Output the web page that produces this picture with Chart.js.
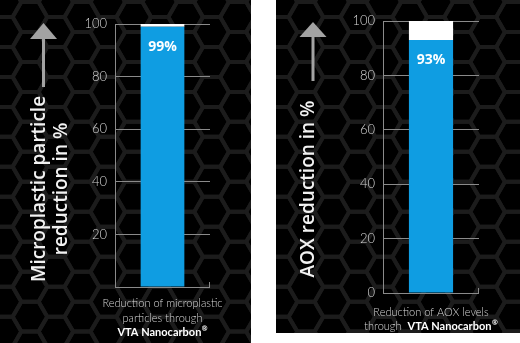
<!DOCTYPE html>
<html>
<head>
<meta charset="utf-8">
<script src="https://cdn.jsdelivr.net/npm/chart.js@4.4.1/dist/chart.umd.min.js"></script>
<style>
  body { margin: 0; background: #fff; width: 520px; height: 343px; position: relative; overflow: hidden; }
  #leftChart { position: absolute; left: 0; top: 0; }
  #rightChart { position: absolute; left: 276px; top: 0; }
</style>
</head>
<body>
<canvas id="leftChart" width="251" height="343"></canvas>
<canvas id="rightChart" width="244" height="333"></canvas>
<script>
// Data
const categories = ['Microplastic particles', 'AOX levels'];
const reductionValues = [99, 93];
const remainderValues = [1, 7];
const yTickValues = [0, 20, 40, 60, 80, 100];
const leftTickLabels = ['', '20', '40', '60', '80', '100'];
const rightTickLabels = ['0', '20', '40', '60', '80', '100'];
const axisTitles = [['Microplastic particle', 'reduction in %'], ['AOX reduction in %']];
const captionLines = [['Reduction of microplastic', 'particles through'], ['Reduction of AOX levels', 'through  ']];
const brandName = 'VTA Nanocarbon';
const brandMark = '®';

const BLUE = '#0f9de2';
const GRID = '#8a8a8a';
const LIGHT = '#d6d6d6';

function hexBackground(ctx, w, h) {
    ctx.save();
    ctx.fillStyle = '#000';
    ctx.fillRect(0, 0, w, h);
    const R = 17.3, hh = Math.sqrt(3) * R;
    ctx.strokeStyle = '#1c1c1c';
    ctx.lineWidth = 4;
    for (let i = -1; i * 1.5 * R < w + R; i++) {
        const cx = i * 1.5 * R + 4;
        for (let j = -1; j * hh < h + hh; j++) {
            const cy = j * hh + (i % 2 ? hh / 2 : 0) + 2;
            ctx.beginPath();
            for (let k = 0; k < 6; k++) {
                const a = Math.PI / 3 * k;
                const px = cx + R * Math.cos(a), py = cy + R * Math.sin(a);
                k ? ctx.lineTo(px, py) : ctx.moveTo(px, py);
            }
            ctx.closePath();
            ctx.stroke();
        }
    }
    ctx.restore();
}

// bold brand name with small raised ® ; x is the left edge
function drawBrand(ctx, x, y) {
    ctx.save();
    ctx.textAlign = 'left';
    ctx.fillStyle = '#ffffff';
    ctx.font = 'bold 11px Lato';
    ctx.fillText(brandName, x, y);
    const w = ctx.measureText(brandName).width;
    ctx.font = 'bold 7px Lato';
    ctx.fillText(brandMark, x + w + 0.5, y - 3);
    ctx.restore();
}

function brandWidth(ctx) {
    ctx.save();
    ctx.font = 'bold 11px Lato';
    const w = ctx.measureText(brandName).width;
    ctx.font = 'bold 7px Lato';
    const w2 = ctx.measureText(brandMark).width;
    ctx.restore();
    return w + w2 + 0.5;
}

function makeChart(id, idx, o) {
    const canvas = document.getElementById(id);
    const W = canvas.width, H = canvas.height;
    const tickLabels = idx === 0 ? leftTickLabels : rightTickLabels;

    return new Chart(canvas.getContext('2d'), {
        type: 'bar',
        data: {
            labels: [categories[idx]],
            datasets: [
                { data: [reductionValues[idx]], backgroundColor: BLUE, borderWidth: 0, barPercentage: 0.46, categoryPercentage: 1 },
                { data: [remainderValues[idx]], backgroundColor: '#ffffff', borderWidth: 0, barPercentage: 0.46, categoryPercentage: 1 }
            ]
        },
        options: {
            responsive: false,
            animation: false,
            devicePixelRatio: 1,
            layout: { padding: { left: 0, right: W - o.right, top: o.top, bottom: H - o.bottom } },
            scales: {
                x: { stacked: true, display: false },
                y: {
                    stacked: true, min: 0, max: 100,
                    afterFit: s => { s.width = o.left; },
                    afterBuildTicks: s => { s.ticks = yTickValues.map(v => ({ value: v })); },
                    grid: { color: GRID, lineWidth: 1, drawTicks: false },
                    border: { display: true, color: GRID, width: 1 },
                    ticks: {
                        padding: 8, color: LIGHT,
                        font: { family: 'Lato', size: 13, weight: '300' },
                        callback: (v, i) => tickLabels[i]
                    }
                }
            },
            plugins: { legend: { display: false }, tooltip: { enabled: false } }
        },
        plugins: [{
            id: 'panelDecor',
            beforeDraw(chart) {
                hexBackground(chart.ctx, W, H);
            },
            afterDraw(chart) {
                const { ctx, chartArea, scales } = chart;
                ctx.save();

                // small tick at right end of the baseline
                const y0 = scales.y.getPixelForValue(0);
                ctx.strokeStyle = GRID;
                ctx.lineWidth = 1;
                ctx.beginPath();
                ctx.moveTo(chartArea.right - 0.5, y0);
                ctx.lineTo(chartArea.right - 0.5, y0 - 5);
                ctx.stroke();

                // value label inside the bar
                const bar = chart.getDatasetMeta(0).data[0];
                ctx.fillStyle = '#ffffff';
                ctx.font = 'bold 14px "Open Sans"';
                ctx.textAlign = 'center';
                ctx.textBaseline = 'middle';
                ctx.fillText(reductionValues[idx] + '%', bar.x, bar.y + 20);

                // arrow
                const a = o.arrow;
                ctx.fillStyle = '#a3a3a3';
                ctx.fillRect(a.x - 1.5, a.base, 3, a.end - a.base);
                ctx.beginPath();
                ctx.moveTo(a.x, a.tip);
                ctx.lineTo(a.x + a.half, a.base);
                ctx.lineTo(a.x - a.half, a.base);
                ctx.closePath();
                ctx.fill();

                // rotated axis title
                ctx.fillStyle = '#f2f2f2';
                ctx.font = '600 19px "Open Sans"';
                axisTitles[idx].forEach((line, i) => {
                    ctx.save();
                    ctx.translate(o.titleX[i], o.titleY);
                    ctx.rotate(-Math.PI / 2);
                    ctx.fillText(line, 0, 0);
                    ctx.restore();
                });

                // caption under the bar
                const cx = (chartArea.left + chartArea.right) / 2;
                const lightFont = '300 11px Lato';
                ctx.fillStyle = LIGHT;
                ctx.font = lightFont;
                const lines = captionLines[idx];
                if (o.brandInline) {
                    ctx.fillText(lines[0], cx, o.capY[0]);
                    const w1 = ctx.measureText(lines[1]).width;
                    const start = cx - (w1 + brandWidth(ctx)) / 2;
                    ctx.textAlign = 'left';
                    ctx.fillText(lines[1], start, o.capY[1]);
                    drawBrand(ctx, start + w1, o.capY[1]);
                } else {
                    ctx.fillText(lines[0], cx, o.capY[0]);
                    ctx.fillText(lines[1], cx, o.capY[1]);
                    drawBrand(ctx, cx - brandWidth(ctx) / 2, o.capY[2]);
                }
                ctx.restore();
            }
        }]
    });
}

makeChart('leftChart', 0, {
    left: 115, right: 210, top: 24, bottom: 287,
    arrow: { x: 43.5, tip: 23, base: 39, end: 87, half: 13.5 },
    titleX: [40, 62], titleY: 189,
    capY: [303, 318, 332], brandInline: false
});

makeChart('rightChart', 1, {
    left: 107, right: 203, top: 21, bottom: 293,
    arrow: { x: 37, tip: 22, base: 37, end: 81, half: 13.5 },
    titleX: [33], titleY: 189,
    capY: [312, 326], brandInline: true
});
</script>
</body>
</html>
